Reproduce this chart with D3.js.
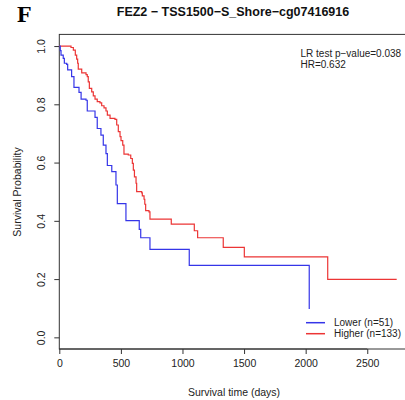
<!DOCTYPE html>
<html><head><meta charset="utf-8">
<script src="https://cdn.jsdelivr.net/npm/d3@7"></script>
<style>body{margin:0;background:#fff}svg{display:block}</style>
</head><body>
<svg id="c" width="405" height="400"></svg>
<script>
const title = "FEZ2 − TSS1500−S_Shore−cg07416916";
const panelLetter = "F";
const xTicks = [0, 500, 1000, 1500, 2000, 2500];
const yTicks = [0.0, 0.2, 0.4, 0.6, 0.8, 1.0];
const statsText = ["LR test p−value=0.038", "HR=0.632"];
const groupNames = ["Lower (n=51)", "Higher (n=133)"];
const groupColors = ["#3535e8", "#ec3535"];

// Lower group (blue) Kaplan-Meier steps
const lowerTimes = [0, 8, 14, 32, 41, 60, 68, 100, 119, 160, 177, 217, 227, 290, 308, 338, 357, 379, 390, 426, 460, 471, 541, 649, 661, 736, 1055, 2029];
const lowerSurv  = [1.0, 0.984, 0.969, 0.958, 0.941, 0.937, 0.918, 0.895, 0.858, 0.841, 0.818, 0.814, 0.777, 0.755, 0.717, 0.694, 0.660, 0.631, 0.590, 0.569, 0.523, 0.459, 0.401, 0.371, 0.342, 0.302, 0.247, 0.097];
const lowerEnd = 2029;

// Higher group (red) Kaplan-Meier steps
const higherTimes = [0, 95, 114, 130, 141, 149, 154, 182, 217, 227, 235, 244, 263, 276, 290, 308, 330, 344, 363, 379, 390, 412, 452, 466, 479, 493, 501, 515, 525, 560, 580, 593, 601, 610, 623, 628, 669, 674, 688, 694, 701, 728, 736, 909, 1096, 1123, 1331, 1502, 2179];
const higherSurv  = [1.0, 0.995, 0.986, 0.969, 0.955, 0.941, 0.921, 0.908, 0.902, 0.895, 0.877, 0.855, 0.843, 0.829, 0.818, 0.809, 0.805, 0.795, 0.788, 0.777, 0.763, 0.752, 0.748, 0.729, 0.706, 0.689, 0.675, 0.660, 0.629, 0.626, 0.614, 0.597, 0.574, 0.551, 0.529, 0.500, 0.496, 0.486, 0.474, 0.457, 0.435, 0.431, 0.406, 0.389, 0.366, 0.342, 0.309, 0.276, 0.199];
const higherEnd = 2739;

const svg = d3.select("#c");
const font = "'Liberation Sans', Arial, Helvetica, sans-serif";
const pLeft = 59.3, pRight = 410, pTop = 34.4, pBottom = 349.0;
const x = d3.scaleLinear().domain([0, 2847]).range([pLeft, pRight]);
const y = d3.scaleLinear().domain([-0.04, 1.04]).range([pBottom, pTop]);

// box
svg.append("rect").attr("x", pLeft).attr("y", pTop).attr("width", pRight - pLeft).attr("height", pBottom - pTop)
  .attr("fill", "none").attr("stroke", "#333").attr("stroke-width", 1);

// axes
const xAxis = d3.axisBottom(x).tickValues(xTicks).tickSize(5).tickPadding(6).tickFormat(d3.format("d"));
const gx = svg.append("g").attr("transform", `translate(0,${pBottom})`).call(xAxis);
gx.select(".domain").attr("d", `M${x(0)},0H${x(2500)}`).attr("stroke", "#333");
gx.selectAll(".tick line").attr("stroke", "#333");
gx.selectAll("text").attr("font-family", font).attr("font-size", 10.5).attr("fill", "#222");

const yAxis = d3.axisLeft(y).tickValues(yTicks).tickSize(5).tickFormat(d3.format(".1f"));
const gy = svg.append("g").attr("transform", `translate(${pLeft},0)`).call(yAxis);
gy.select(".domain").remove();
gy.selectAll(".tick line").attr("stroke", "#333");
gy.selectAll(".tick text").attr("font-family", font).attr("font-size", 10.5).attr("fill", "#222")
  .attr("x", null).attr("y", null).attr("dy", "0.35em")
  .attr("text-anchor", "middle")
  .attr("transform", "translate(-18,0) rotate(-90)");

// curves
function stepLine(times, surv, end) {
  const pts = [];
  for (let i = 0; i < times.length; i++) {
    if (i > 0) pts.push([times[i], surv[i - 1]]);
    pts.push([times[i], surv[i]]);
  }
  pts.push([end, surv[surv.length - 1]]);
  return d3.line().x(d => x(d[0])).y(d => y(d[1]))(pts);
}
svg.append("path").attr("d", stepLine(higherTimes, higherSurv, higherEnd))
  .attr("fill", "none").attr("stroke", groupColors[1]).attr("stroke-width", 1.2);
svg.append("path").attr("d", stepLine(lowerTimes, lowerSurv, lowerEnd))
  .attr("fill", "none").attr("stroke", groupColors[0]).attr("stroke-width", 1.2);

// titles
svg.append("text").attr("x", 233).attr("y", 16).attr("text-anchor", "middle")
  .attr("font-family", font).attr("font-weight", "bold").attr("font-size", 12.5).attr("fill", "#111").text(title);
svg.append("text").attr("x", 17).attr("y", 21.5)
  .attr("font-family", "'Liberation Serif', 'Times New Roman', serif").attr("font-weight", "bold")
  .attr("font-size", 24).attr("fill", "#000").text(panelLetter);
svg.append("text").attr("x", 234).attr("y", 396).attr("text-anchor", "middle")
  .attr("font-family", font).attr("font-size", 10.5).attr("fill", "#222").text("Survival time (days)");
svg.append("text").attr("transform", "translate(21,192) rotate(-90)").attr("text-anchor", "middle")
  .attr("font-family", font).attr("font-size", 10.5).attr("fill", "#222").text("Survival Probability");

// stats
statsText.forEach((t, i) => {
  svg.append("text").attr("x", 300.5).attr("y", 56.5 + i * 11)
    .attr("font-family", font).attr("font-size", 10).attr("fill", "#222").text(t);
});

// legend
groupNames.forEach((t, i) => {
  const yy = 322.7 + i * 11;
  svg.append("line").attr("x1", 306).attr("x2", 325).attr("y1", yy).attr("y2", yy)
    .attr("stroke", groupColors[i]).attr("stroke-width", 1.5);
  svg.append("text").attr("x", 334).attr("y", yy + 3.6)
    .attr("font-family", font).attr("font-size", 10).attr("fill", "#222").text(t);
});
</script>
</body></html>
